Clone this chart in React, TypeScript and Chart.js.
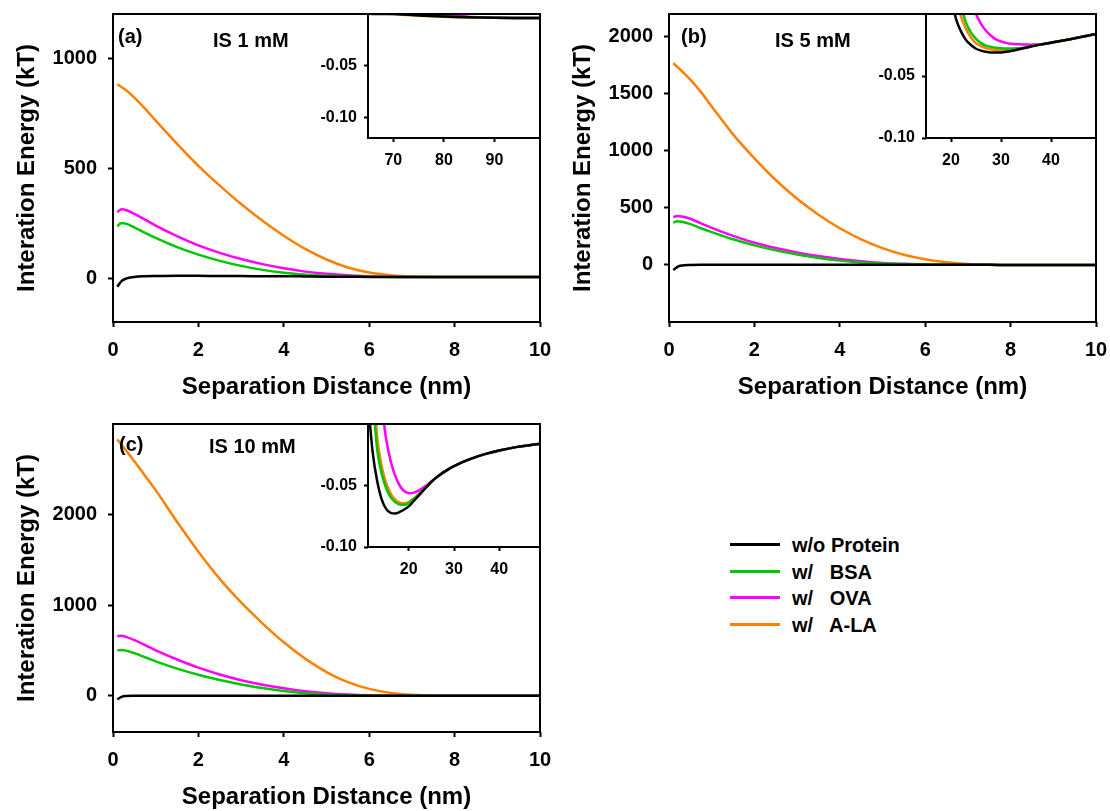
import React, { useEffect, useRef } from "react";
import { Chart, registerables } from "chart.js";

Chart.register(...registerables);

const FONT_FAMILY = '"Liberation Sans", Arial, Helvetica, sans-serif';
const COLOR_BLACK = "#000000";
const COLOR_GREEN = "#00c800";
const COLOR_MAGENTA = "#ff00ff";
const COLOR_ORANGE = "#ff8000";

const SERIES_LABELS = ["w/o Protein", "w/   BSA", "w/   OVA", "w/   A-LA"];
const SERIES_COLORS = [COLOR_BLACK, COLOR_GREEN, COLOR_MAGENTA, COLOR_ORANGE];

const X_TITLE = "Separation Distance (nm)";
const Y_TITLE = "Interation Energy (kT)";

// ---------- main panels: shared distance grid (nm) ----------
const MAIN_X = [0.1, 0.2, 0.3, 0.5, 0.75, 1, 1.5, 2, 2.5, 3, 3.5, 4, 4.5, 5, 5.5, 6, 6.5, 7, 7.5, 8, 9, 10];
const MAIN_X_TICKS = [0, 2, 4, 6, 8, 10];

// (a) IS 1 mM
const A_BLACK = [-40, -14, -3, 5, 8, 9, 10, 10, 9, 9, 8, 8, 7, 6, 6, 5, 5, 5, 5, 5, 4, 4];
const A_GREEN = [235, 250, 247, 230, 205, 182, 140, 106, 78, 55, 37, 24, 15, 10, 7, 6, 5, 5, 5, 5, 4, 4];
const A_MAGENTA = [300, 312, 309, 292, 265, 238, 190, 148, 114, 86, 63, 44, 29, 19, 12, 8, 6, 5, 5, 5, 4, 4];
const A_ORANGE = [880, 868, 855, 820, 770, 715, 610, 510, 420, 336, 260, 192, 132, 84, 48, 25, 13, 7, 5, 5, 4, 4];
const A_Y_TICKS = [0, 500, 1000];

// (b) IS 5 mM
const B_BLACK = [-45, -16, -5, 0, 2, 2, 2, 2, 2, 2, 2, 1, 1, 1, 1, 1, 1, 1, 1, 0, 0, 0];
const B_GREEN = [371, 383, 378, 358, 322, 288, 225, 172, 128, 92, 62, 38, 22, 12, 6, 3, 2, 1, 1, 0, 0, 0];
const B_MAGENTA = [418, 430, 425, 405, 365, 325, 255, 195, 148, 110, 78, 52, 32, 18, 10, 5, 2, 1, 1, 0, 0, 0];
const B_ORANGE = [1769, 1735, 1700, 1625, 1515, 1390, 1145, 935, 745, 580, 440, 322, 225, 148, 90, 50, 23, 8, 2, 0, 0, 0];
const B_Y_TICKS = [0, 500, 1000, 1500, 2000];

// (c) IS 10 mM
const C_BLACK = [-40, -12, -3, 0, 1, 1, 1, 1, 1, 1, 1, 1, 1, 1, 0, 0, 0, 0, 0, 0, 0, 0];
const C_GREEN = [502, 505, 498, 470, 425, 380, 300, 232, 175, 125, 85, 52, 28, 13, 6, 3, 1, 0, 0, 0, 0, 0];
const C_MAGENTA = [659, 662, 650, 615, 560, 500, 400, 310, 235, 172, 122, 82, 50, 28, 14, 6, 3, 1, 0, 0, 0, 0];
const C_ORANGE = [2830, 2770, 2710, 2590, 2430, 2270, 1920, 1590, 1290, 1030, 800, 590, 410, 262, 150, 76, 32, 10, 3, 0, 0, 0];
const C_Y_TICKS = [0, 1000, 2000];

// ---------- insets ----------
const INSET_Y_TICKS = [-0.1, -0.05];

// inset (a)
const IA_BLACK_X = [65, 68, 71, 73, 76, 80, 85, 90, 95, 99];
const IA_BLACK_Y = [0.0003, 0.0001, -0.0002, -0.0008, -0.0016, -0.0025, -0.0032, -0.0036, -0.0038, -0.0039];
const IA_GREEN_X = [70, 72, 74, 76, 78, 80, 85, 90, 95, 99];
const IA_GREEN_Y = [0.0004, 0.0, -0.0003, -0.0006, -0.0012, -0.0024, -0.0032, -0.0036, -0.0038, -0.0039];
const IA_MAGENTA_X = [76, 78, 80, 82, 84, 86, 90, 95, 99];
const IA_MAGENTA_Y = [0.0003, -0.0002, -0.0007, -0.0013, -0.0022, -0.003, -0.0036, -0.0038, -0.0039];
const IA_ORANGE_X = [70.5, 72, 75, 78, 80, 83, 86, 90, 95, 99];
const IA_ORANGE_Y = [0.0, -0.0008, -0.0016, -0.0022, -0.0026, -0.0031, -0.0034, -0.0037, -0.0039, -0.004];
const IA_X_TICKS = [70, 80, 90];

// inset (b)
const IB_BLACK_X = [20.5, 21, 22, 23, 24, 25, 26, 27, 28, 29, 30, 31, 32, 34, 36, 38, 40, 43, 46, 49];
const IB_BLACK_Y = [0.005, -0.004, -0.014, -0.021, -0.025, -0.028, -0.0295, -0.0305, -0.031, -0.031, -0.031, -0.0305, -0.0298, -0.028, -0.0262, -0.0245, -0.0231, -0.021, -0.0186, -0.0162];
const IB_GREEN_X = [22.1, 23, 24, 25, 26, 27, 28, 29, 30, 31, 32, 33, 34, 35, 36, 38, 40, 43, 46, 49];
const IB_GREEN_Y = [0.005, -0.007, -0.015, -0.02, -0.0235, -0.0255, -0.0265, -0.0272, -0.0276, -0.0278, -0.0278, -0.0277, -0.0276, -0.0271, -0.0262, -0.0245, -0.0231, -0.021, -0.0186, -0.0162];
const IB_MAGENTA_X = [24.6, 25, 26, 27, 28, 29, 30, 31, 32, 33, 34, 35, 36, 37, 38, 40, 43, 46, 49];
const IB_MAGENTA_Y = [0.005, 0.0, -0.008, -0.0135, -0.0175, -0.0205, -0.0222, -0.0233, -0.024, -0.0244, -0.0245, -0.0246, -0.0247, -0.0246, -0.0245, -0.0231, -0.021, -0.0186, -0.0162];
const IB_ORANGE_X = [21.6, 22, 23, 24, 25, 26, 27, 28, 29, 30, 31, 32, 33, 34, 36, 38, 40, 43, 46, 49];
const IB_ORANGE_Y = [0.005, -0.002, -0.012, -0.019, -0.0235, -0.026, -0.0275, -0.0285, -0.029, -0.029, -0.0291, -0.0291, -0.029, -0.028, -0.0262, -0.0245, -0.0231, -0.021, -0.0186, -0.0162];
const IB_X_TICKS = [20, 30, 40];

// inset (c)
const IC_BLACK_X = [11.2, 12, 13, 14, 15, 16, 17, 18, 19, 20, 21, 22, 23, 24, 25, 26, 27, 28, 29, 30, 32, 34, 37, 40, 44, 49];
const IC_BLACK_Y = [0.01, -0.022, -0.046, -0.061, -0.069, -0.0722, -0.0727, -0.0715, -0.0695, -0.067, -0.063, -0.059, -0.055, -0.051, -0.047, -0.0438, -0.041, -0.0385, -0.0363, -0.0343, -0.0308, -0.0279, -0.0243, -0.0215, -0.0186, -0.016];
const IC_GREEN_X = [12.3, 13, 14, 15, 16, 17, 18, 19, 20, 21, 22, 23, 24, 25, 26, 27, 28, 29, 30, 32, 34, 37, 40, 44, 49];
const IC_GREEN_Y = [0.01, -0.02, -0.04, -0.052, -0.0595, -0.0635, -0.0655, -0.0657, -0.0643, -0.0612, -0.058, -0.0545, -0.0507, -0.047, -0.0438, -0.041, -0.0385, -0.0363, -0.0343, -0.0308, -0.0279, -0.0243, -0.0215, -0.0186, -0.016];
const IC_MAGENTA_X = [14.2, 15, 16, 17, 18, 19, 20, 21, 22, 23, 24, 25, 26, 27, 28, 29, 30, 32, 34, 37, 40, 44, 49];
const IC_MAGENTA_Y = [0.01, -0.012, -0.03, -0.042, -0.05, -0.0545, -0.0562, -0.056, -0.0545, -0.0522, -0.0496, -0.0468, -0.0438, -0.041, -0.0385, -0.0363, -0.0343, -0.0308, -0.0279, -0.0243, -0.0215, -0.0186, -0.016];
const IC_ORANGE_X = [12.6, 13, 14, 15, 16, 17, 18, 19, 20, 21, 22, 23, 24, 25, 26, 27, 28, 29, 30, 32, 34, 37, 40, 44, 49];
const IC_ORANGE_Y = [0.01, -0.01, -0.034, -0.048, -0.0565, -0.0615, -0.064, -0.0645, -0.0635, -0.0608, -0.0576, -0.0543, -0.0506, -0.047, -0.0438, -0.041, -0.0385, -0.0363, -0.0343, -0.0308, -0.0279, -0.0243, -0.0215, -0.0186, -0.016];
const IC_X_TICKS = [20, 30, 40];

// ---------- helpers ----------
type Pt = { x: number; y: number };
const pts = (xs: number[], ys: number[]): Pt[] => xs.map((x, i) => ({ x, y: ys[i] }));

type Txt = { text: string; x: number; y: number; size: number };

function makeFramePlugin(texts: Txt[]) {
  return {
    id: "frame",
    afterDatasetsDraw(chart: any) {
      const { ctx, chartArea } = chart;
      const { left, top, right, bottom } = chartArea;
      ctx.save();
      ctx.strokeStyle = "#000";
      ctx.lineWidth = 2;
      ctx.strokeRect(left, top, right - left, bottom - top);
      texts.forEach((t) => {
        ctx.font = `bold ${t.size}px ${FONT_FAMILY}`;
        ctx.fillStyle = "#000";
        ctx.textAlign = "left";
        ctx.textBaseline = "alphabetic";
        ctx.fillText(t.text, t.x, t.y);
      });
      ctx.restore();
    },
  };
}

function lineDatasets(series: Pt[][], width: number) {
  return series.map((data, i) => ({
    label: SERIES_LABELS[i],
    data,
    borderColor: SERIES_COLORS[i],
    backgroundColor: SERIES_COLORS[i],
    borderWidth: width,
    pointRadius: 0,
    fill: false,
    cubicInterpolationMode: "monotone" as const,
  }));
}

type AxisSpec = {
  min: number;
  max: number;
  ticks: number[];
  size: number; // width (y) or height (x) of the axis box
  fontSize: number;
  tickLength: number;
  padding: number;
  fmt: (v: number) => string;
  title?: string;
  titleSize?: number;
  titlePad?: { top: number; bottom: number };
};

function axis(spec: AxisSpec, horizontal: boolean) {
  return {
    type: "linear" as const,
    position: horizontal ? ("bottom" as const) : ("left" as const),
    min: spec.min,
    max: spec.max,
    afterBuildTicks: (ax: any) => {
      ax.ticks = spec.ticks.map((v) => ({ value: v }));
    },
    afterFit: (ax: any) => {
      if (horizontal) ax.height = spec.size;
      else ax.width = spec.size;
      ax.paddingTop = 0;
      ax.paddingBottom = 0;
      ax.paddingLeft = 0;
      ax.paddingRight = 0;
    },
    grid: {
      display: true,
      drawOnChartArea: false,
      drawTicks: true,
      tickLength: spec.tickLength,
      tickWidth: 2,
      tickColor: "#000",
    },
    border: { display: false },
    ticks: {
      color: "#000",
      font: { family: FONT_FAMILY, size: spec.fontSize, weight: "bold" as const },
      padding: spec.padding,
      autoSkip: false,
      maxRotation: 0,
      minRotation: 0,
      callback: (v: any) => spec.fmt(Number(v)),
    },
    title: spec.title
      ? {
          display: true,
          text: spec.title,
          color: "#000",
          font: { family: FONT_FAMILY, size: spec.titleSize, weight: "bold" as const },
          padding: spec.titlePad,
        }
      : { display: false },
  };
}

type ChartSpec = {
  series: Pt[][];
  lineWidth: number;
  x: AxisSpec;
  y: AxisSpec;
  pad: { top: number; right: number; left: number; bottom: number };
  texts: Txt[];
};

function buildConfig(spec: ChartSpec): any {
  return {
    type: "line",
    data: { datasets: lineDatasets(spec.series, spec.lineWidth) },
    options: {
      responsive: false,
      animation: false,
      devicePixelRatio: 1,
      layout: { padding: spec.pad },
      plugins: { legend: { display: false }, tooltip: { enabled: false }, title: { display: false } },
      scales: { x: axis(spec.x, true), y: axis(spec.y, false) },
    },
    plugins: [makeFramePlugin(spec.texts)],
  };
}

const intFmt = (v: number) => String(v);
const decFmt = (v: number) => v.toFixed(2);

function mainX(): AxisSpec {
  return {
    min: 0, max: 10, ticks: MAIN_X_TICKS, size: 78, fontSize: 20, tickLength: 5, padding: 11, fmt: intFmt,
    title: X_TITLE, titleSize: 24, titlePad: { top: 0, bottom: -2 },
  };
}
function mainY(min: number, max: number, ticks: number[]): AxisSpec {
  return {
    min, max, ticks, size: 113, fontSize: 20, tickLength: 5, padding: 11, fmt: intFmt,
    title: Y_TITLE, titleSize: 24, titlePad: { top: 13, bottom: 0 },
  };
}
function insetX(min: number, max: number, ticks: number[], size: number): AxisSpec {
  return { min, max, ticks, size, fontSize: 16, tickLength: 4, padding: 9, fmt: intFmt };
}
function insetY(min: number): AxisSpec {
  return { min, max: 0, ticks: INSET_Y_TICKS, size: 78, fontSize: 16, tickLength: 4, padding: 7, fmt: decFmt };
}

const mainSeries = (ys: number[][]) => ys.map((y) => pts(MAIN_X, y));

const CONFIGS: { left: number; top: number; width: number; height: number; spec: ChartSpec }[] = [
  {
    left: 0, top: 0, width: 560, height: 400,
    spec: {
      series: mainSeries([A_BLACK, A_GREEN, A_MAGENTA, A_ORANGE]), lineWidth: 2.5,
      x: mainX(), y: mainY(-200, 1200, A_Y_TICKS),
      pad: { top: 14, right: 20, left: 0, bottom: 0 },
      texts: [
        { text: "(a)", x: 118, y: 43, size: 20 },
        { text: "IS 1 mM", x: 213, y: 47, size: 20 },
      ],
    },
  },
  {
    left: 556, top: 0, width: 554, height: 400,
    spec: {
      series: mainSeries([B_BLACK, B_GREEN, B_MAGENTA, B_ORANGE]), lineWidth: 2.5,
      x: mainX(), y: mainY(-500, 2200, B_Y_TICKS),
      pad: { top: 14, right: 14, left: 0, bottom: 0 },
      texts: [
        { text: "(b)", x: 125, y: 43, size: 20 },
        { text: "IS 5 mM", x: 219, y: 47, size: 20 },
      ],
    },
  },
  {
    left: 0, top: 410, width: 560, height: 400,
    spec: {
      series: mainSeries([C_BLACK, C_GREEN, C_MAGENTA, C_ORANGE]), lineWidth: 2.5,
      x: mainX(), y: mainY(-400, 3000, C_Y_TICKS),
      pad: { top: 14, right: 20, left: 0, bottom: 0 },
      texts: [
        { text: "(c)", x: 119, y: 41, size: 20 },
        { text: "IS 10 mM", x: 209, y: 43, size: 20 },
      ],
    },
  },
  {
    left: 290, top: 0, width: 260, height: 180,
    spec: {
      series: [pts(IA_BLACK_X, IA_BLACK_Y), pts(IA_GREEN_X, IA_GREEN_Y), pts(IA_MAGENTA_X, IA_MAGENTA_Y), pts(IA_ORANGE_X, IA_ORANGE_Y)],
      lineWidth: 2.5,
      x: insetX(65, 99, IA_X_TICKS, 42), y: insetY(-0.12),
      pad: { top: 14, right: 10, left: 0, bottom: 0 },
      texts: [],
    },
  },
  {
    left: 848, top: 0, width: 262, height: 180,
    spec: {
      series: [pts(IB_BLACK_X, IB_BLACK_Y), pts(IB_GREEN_X, IB_GREEN_Y), pts(IB_MAGENTA_X, IB_MAGENTA_Y), pts(IB_ORANGE_X, IB_ORANGE_Y)],
      lineWidth: 2.5,
      x: insetX(15, 49, IB_X_TICKS, 42), y: insetY(-0.1),
      pad: { top: 14, right: 14, left: 0, bottom: 0 },
      texts: [],
    },
  },
  {
    left: 290, top: 410, width: 260, height: 180,
    spec: {
      series: [pts(IC_BLACK_X, IC_BLACK_Y), pts(IC_GREEN_X, IC_GREEN_Y), pts(IC_MAGENTA_X, IC_MAGENTA_Y), pts(IC_ORANGE_X, IC_ORANGE_Y)],
      lineWidth: 2.5,
      x: insetX(11, 49, IC_X_TICKS, 43), y: insetY(-0.1),
      pad: { top: 14, right: 10, left: 0, bottom: 0 },
      texts: [],
    },
  },
];

function ChartCanvas(props: { left: number; top: number; width: number; height: number; spec: ChartSpec }) {
  const ref = useRef<HTMLCanvasElement | null>(null);
  useEffect(() => {
    if (!ref.current) return;
    const chart = new Chart(ref.current, buildConfig(props.spec));
    return () => chart.destroy();
  }, []);
  return (
    <canvas
      ref={ref}
      width={props.width}
      height={props.height}
      style={{ position: "absolute", left: props.left, top: props.top, width: props.width, height: props.height }}
    />
  );
}

const LEGEND_LINE_Y = [544, 571, 597, 624];

function Legend() {
  return (
    <>
      {SERIES_LABELS.map((label, i) => (
        <React.Fragment key={label}>
          <div
            style={{
              position: "absolute",
              left: 730,
              top: LEGEND_LINE_Y[i] - 1.5,
              width: 50,
              height: 3,
              background: SERIES_COLORS[i],
            }}
          />
          <span
            style={{
              position: "absolute",
              left: 792,
              top: LEGEND_LINE_Y[i] - 9,
              fontFamily: FONT_FAMILY,
              fontWeight: "bold",
              fontSize: 20,
              lineHeight: "20px",
              whiteSpace: "pre",
              color: "#000",
            }}
          >
            {label}
          </span>
        </React.Fragment>
      ))}
    </>
  );
}

export default function App() {
  return (
    <div
      style={{
        position: "absolute",
        left: 0,
        top: 0,
        width: 1110,
        height: 811,
        background: "#ffffff",
        overflow: "hidden",
      }}
    >
      {CONFIGS.map((c, i) => (
        <ChartCanvas key={i} left={c.left} top={c.top} width={c.width} height={c.height} spec={c.spec} />
      ))}
      <Legend />
    </div>
  );
}
